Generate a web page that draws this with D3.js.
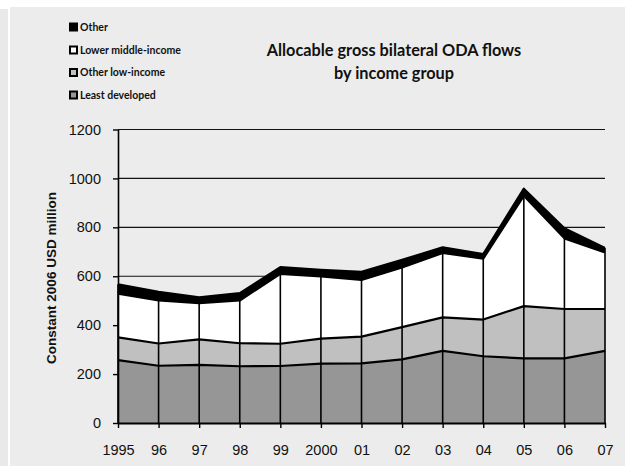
<!DOCTYPE html>
<html>
<head>
<meta charset="utf-8">
<script src="https://cdn.jsdelivr.net/npm/d3@7"></script>
<style>
  body { margin: 0; background: #fff; }
  svg { display: block; }
</style>
</head>
<body>
<svg id="chart"></svg>
<script>
// years on the x axis, labels as printed
let years = ["1995", "96", "97", "98", "99", "2000", "01", "02", "03", "04", "05", "06", "07"];

// values, constant 2006 USD million
let least_developed = [257, 234, 238, 232, 233, 243, 244, 260, 295, 273, 264, 264, 295];
let other_low_income = [93, 91, 104, 94, 91, 102, 109, 132, 137, 150, 214, 202, 171];
let lower_middle_income = [179, 176, 148, 175, 286, 254, 232, 244, 263, 249, 451, 289, 231];
let other = [38, 35, 24, 30, 27, 27, 33, 31, 23, 19, 29, 41, 19];

let series_names = ["Least developed", "Other low-income", "Lower middle-income", "Other"];
let series_colors = ["#969696", "#c0c0c0", "#ffffff", "#000000"];
let y_ticks = [0, 200, 400, 600, 800, 1000, 1200];

let axis_font = "'Liberation Sans', Arial, Helvetica, sans-serif";
let label_font = "Lato, 'Open Sans', sans-serif";

let width = 625, height = 466;
let svg = d3.select("#chart").attr("width", width).attr("height", height);

// panel backgrounds
svg.append("rect").attr("x", 0).attr("y", 9).attr("width", 8).attr("height", height - 9).attr("fill", "#e9e9e9");
svg.append("rect").attr("x", 10).attr("y", 7).attr("width", width - 10).attr("height", height - 7).attr("fill", "#ececec");

let table = years.map((yr, i) => ({
  year: yr,
  "Least developed": least_developed[i],
  "Other low-income": other_low_income[i],
  "Lower middle-income": lower_middle_income[i],
  "Other": other[i]
}));

let stacked = d3.stack().keys(series_names)(table);

let x = d3.scalePoint().domain(years).range([118, 605]);
let y = d3.scaleLinear().domain([0, 1200]).range([423, 129.5]);

// grid lines
svg.append("g")
  .selectAll("line")
  .data(y_ticks.filter(d => d > 0))
  .join("line")
  .attr("x1", x.range()[0])
  .attr("x2", x.range()[1])
  .attr("y1", d => y(d))
  .attr("y2", d => y(d))
  .attr("stroke", "#111")
  .attr("stroke-width", 1.2);

// areas
let area = d3.area()
  .x((d, i) => x(years[i]))
  .y0(d => y(d[0]))
  .y1(d => y(d[1]));

svg.append("g")
  .selectAll("path")
  .data(stacked)
  .join("path")
  .attr("d", area)
  .attr("fill", (d, i) => series_colors[i]);

// drop lines
let totals = stacked[stacked.length - 1];
svg.append("g")
  .selectAll("line")
  .data(totals)
  .join("line")
  .attr("x1", (d, i) => x(years[i]))
  .attr("x2", (d, i) => x(years[i]))
  .attr("y1", y(0))
  .attr("y2", d => y(d[1]))
  .attr("stroke", "#000")
  .attr("stroke-width", 1.6);

// series border lines
let top_line = d3.line()
  .x((d, i) => x(years[i]))
  .y(d => y(d[1]));

svg.append("g")
  .selectAll("path")
  .data(stacked)
  .join("path")
  .attr("d", top_line)
  .attr("fill", "none")
  .attr("stroke", "#000")
  .attr("stroke-width", 2.2)
  .attr("stroke-linejoin", "round");

// axes
let yAxis = d3.axisLeft(y)
  .tickValues(y_ticks)
  .tickFormat(d3.format("d"))
  .tickSize(5)
  .tickPadding(12)
  .tickSizeOuter(0);
let gy = svg.append("g")
  .attr("transform", "translate(118,0)")
  .call(yAxis)
  .attr("font-family", axis_font)
  .attr("font-size", 14.5);
gy.select(".domain").attr("stroke", "#000").attr("stroke-width", 1.6);
gy.selectAll(".tick line").attr("stroke", "#000").attr("stroke-width", 1.4);
gy.selectAll("text").attr("fill", "#111");

let xAxis = d3.axisBottom(x).tickSize(5).tickPadding(12).tickSizeOuter(0);
let gx = svg.append("g")
  .attr("transform", "translate(0,423)")
  .call(xAxis)
  .attr("font-family", axis_font)
  .attr("font-size", 14.5);
gx.select(".domain").attr("stroke", "#000").attr("stroke-width", 2.2);
gx.selectAll(".tick line").attr("stroke", "#000").attr("stroke-width", 1.4);
gx.selectAll("text")
  .attr("fill", "#111")
  .attr("y", 22)
  .attr("dy", "0.71em");

// y axis title
svg.append("text")
  .attr("transform", "translate(56,278) rotate(-90)")
  .attr("text-anchor", "middle")
  .attr("font-family", axis_font)
  .attr("font-weight", "bold")
  .attr("font-size", 13.5)
  .attr("fill", "#111")
  .text("Constant 2006 USD million");

// title
let title = svg.append("text")
  .attr("text-anchor", "middle")
  .attr("font-family", label_font)
  .attr("font-weight", "bold")
  .attr("font-size", 16.3)
  .attr("fill", "#111");
title.append("tspan").attr("x", 394).attr("y", 56).text("Allocable gross bilateral ODA flows");
title.append("tspan").attr("x", 394).attr("y", 79).text("by income group");

// legend, listed from the top series down
let legend_items = series_names.slice().reverse();
let legend_colors = series_colors.slice().reverse();
let legend_y = [27, 50, 72.5, 95];

let legend = svg.append("g")
  .selectAll("g")
  .data(legend_items)
  .join("g")
  .attr("transform", (d, i) => `translate(69,${legend_y[i]})`);

legend.append("rect")
  .attr("x", 1)
  .attr("y", -3.5)
  .attr("width", 7)
  .attr("height", 7)
  .attr("fill", (d, i) => legend_colors[i])
  .attr("stroke", "#000")
  .attr("stroke-width", 2);

legend.append("text")
  .attr("x", 11)
  .attr("dy", "0.35em")
  .attr("font-family", label_font)
  .attr("font-weight", "bold")
  .attr("font-size", 10.5)
  .attr("fill", "#111")
  .text(d => d);
</script>
</body>
</html>
